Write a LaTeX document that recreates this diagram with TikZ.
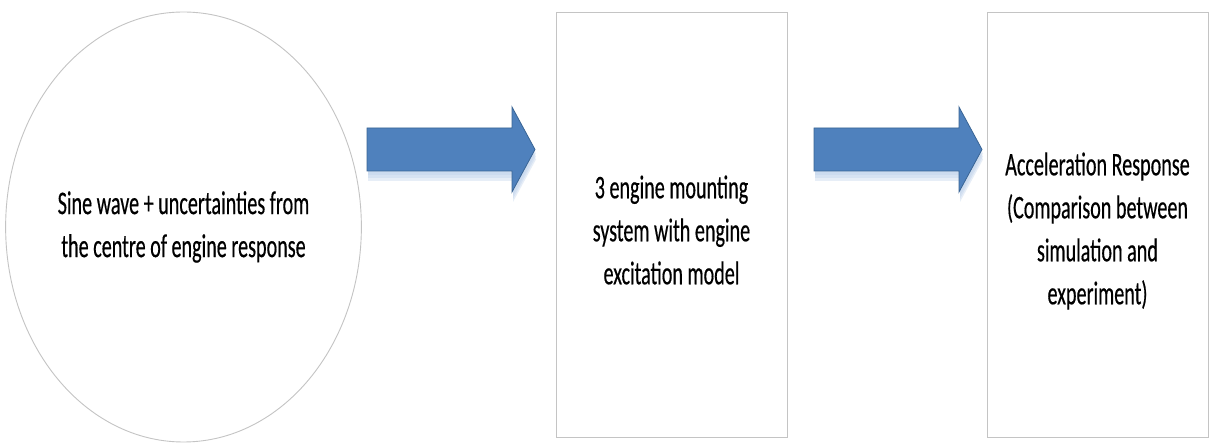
\documentclass[tikz,border=0pt]{standalone}
\usepackage{fontspec}
\setmainfont{Carlito}[FakeStretch=0.61, FakeBold=0.4]
\usetikzlibrary{shapes.geometric, calc}

\definecolor{boxline}{HTML}{C4C4C4}
\definecolor{arrowfill}{HTML}{4F81BD}
\definecolor{arrowline}{HTML}{3A6595}
\definecolor{arrowshade}{HTML}{BCD0EA}

\tikzset{
  stagefont/.style={font=\fontsize{33}{43}\selectfont},
  stage/.style={draw=boxline, line width=0.9pt, fill=white, inner sep=0pt,
                align=center, stagefont},
  oval/.style={stage, ellipse},
  panel/.style={stage, rectangle},
  caption/.style={align=center, inner sep=0pt, stagefont},
  blockarrow/.style={fill=arrowfill, draw=arrowline, line width=0.8pt, line join=miter},
  blockshade/.style={fill=arrowshade, opacity=0.35},
}

% block arrow outline starting at the middle of its tail, length #2
\newcommand{\blockpath}[2]{(#1) ++(0,-21.5) -- ++(#2-23,0) -- ++(0,-21)
      -- ++(23,42.5) -- ++(-23,42.5) -- ++(0,-21) -- ++(-#2+23,0) -- cycle}

\begin{document}
\begin{tikzpicture}[x=1pt, y=-1pt]
  \useasboundingbox[fill=white] (0,0) rectangle (1211,443);

  % input, model and output stages
  \node[oval, minimum width=345pt, minimum height=430pt] (input) at (183.5,227)
    {Sine wave + uncertainties from\\the centre of engine response};
  \node[panel, minimum width=231pt, minimum height=425pt] (model) at (671.5,224.5) {};
  \node[caption] (modeltxt) at (671.5,230)
    {3 engine mounting\\system with engine\\excitation model};
  \node[panel, minimum width=221pt, minimum height=425pt] (output) at (1097.5,224.5) {};
  \node[caption] (outputtxt) at (1097.5,231)
    {Acceleration Response\\(Comparison between\\simulation and\\experiment)};

  % block arrows between the stages, with a soft shadow below
  \coordinate (a1) at (367,149.5);
  \coordinate (a2) at (814,149.5);
  \foreach \s in {a1, a2}{
    \foreach \d in {4,7,10}{
      \fill[blockshade] \blockpath{$(\s)+(1,\d)$}{168};
    }
    \draw[blockarrow] \blockpath{\s}{168};
  }
\end{tikzpicture}
\end{document}
